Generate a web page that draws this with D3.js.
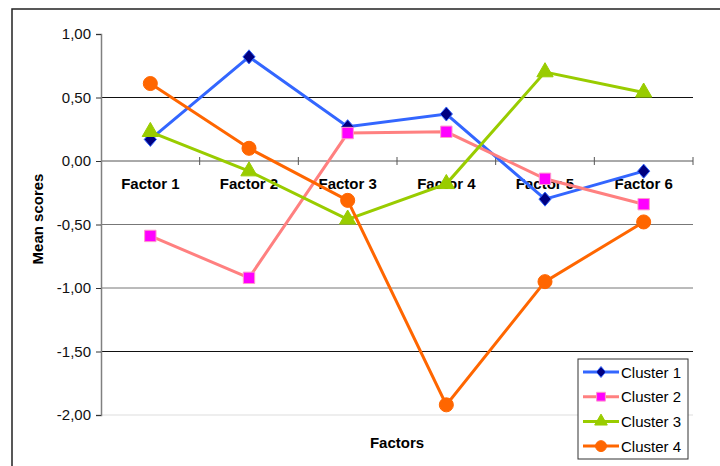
<!DOCTYPE html>
<html>
<head>
<script src="https://d3js.org/d3.v7.min.js" charset="utf-8"></script>
<style type="text/css">
	body { margin: 0; background: #fff; font-family: Arial, "Liberation Sans", sans-serif; }
	svg { display: block; }
</style>
</head>
<body>
<script>
var factors = ["Factor 1", "Factor 2", "Factor 3", "Factor 4", "Factor 5", "Factor 6"];
var seriesNames = ["Cluster 1", "Cluster 2", "Cluster 3", "Cluster 4"];
var cluster1 = [0.17, 0.82, 0.27, 0.37, -0.30, -0.08];
var cluster2 = [-0.59, -0.92, 0.22, 0.23, -0.14, -0.34];
var cluster3 = [0.23, -0.08, -0.46, -0.18, 0.70, 0.54];
var cluster4 = [0.61, 0.10, -0.31, -1.92, -0.95, -0.48];
var yTicks = [1.0, 0.5, 0.0, -0.5, -1.0, -1.5, -2.0];

var w = 720, h = 466;
var plotL = 101, plotR = 693, plotT = 34, plotB = 415;
var font = "Arial, 'Liberation Sans', sans-serif";

var svg = d3.select("body").append("svg")
	.attr("width", w)
	.attr("height", h)
	.attr("font-family", font);

// outer chart border (runs off the page at right and bottom)
svg.append("rect")
	.attr("x", 12).attr("y", 9)
	.attr("width", 760).attr("height", 500)
	.attr("fill", "none")
	.attr("stroke", "#222")
	.attr("stroke-width", 1.5);

var x = d3.scaleBand().domain(factors).range([plotL, plotR]);
var y = d3.scaleLinear().domain([-2, 1]).range([plotB, plotT]);

// gridlines (the scan leaves them in different greys)
var gridCol = function(v) {
	if (v == 0.5 || v == -1.5) return "#111";
	if (v == 0) return "#555";
	if (v == -2) return "#ddd";
	return "#777";
};
svg.selectAll(".grid")
	.data(yTicks.filter(function(d) { return d != 1; }))
	.enter().append("line")
	.attr("x1", plotL).attr("x2", plotR)
	.attr("y1", function(d) { return y(d); })
	.attr("y2", function(d) { return y(d); })
	.attr("stroke", gridCol)
	.attr("stroke-width", 1);

// y axis
var yAxis = d3.axisLeft(y)
	.tickValues(yTicks)
	.tickSize(5)
	.tickFormat(function(d) { return d3.format(".2f")(d).replace(".", ",").replace("−", "-"); });
var ya = svg.append("g").attr("transform", "translate(" + plotL + ",0)").call(yAxis);
ya.select(".domain").attr("stroke", "#808080").attr("stroke-width", 1.5);
ya.selectAll(".tick line").attr("stroke", "#333");
ya.selectAll("text").attr("font-size", 15).attr("fill", "#111").attr("dx", -2)
	.attr("font-family", font);

// x axis on the zero line
var xAxis = d3.axisBottom(x).tickSize(0).tickPadding(17);
var xa = svg.append("g").attr("transform", "translate(0," + y(0) + ")").call(xAxis);
xa.select(".domain").remove();
xa.selectAll("text").attr("font-size", 15).attr("font-weight", "bold").attr("fill", "#000")
	.attr("font-family", font);
// small ticks between categories
svg.selectAll(".xt")
	.data(factors.slice(1).concat(["end"]))
	.enter().append("line")
	.attr("x1", function(d, i) { return plotL + (i + 1) * x.bandwidth(); })
	.attr("x2", function(d, i) { return plotL + (i + 1) * x.bandwidth(); })
	.attr("y1", y(0) - 4).attr("y2", y(0) + 4)
	.attr("stroke", "#555");

var cx = function(i) { return x(factors[i]) + x.bandwidth() / 2; };

// squat diamond like the spreadsheet marker
var diamond = {
	draw: function(ctx, size) {
		var r = Math.sqrt(size) / 2;
		ctx.moveTo(0, -r * 1.15);
		ctx.lineTo(r, 0);
		ctx.lineTo(0, r * 1.15);
		ctx.lineTo(-r, 0);
		ctx.closePath();
	}
};

var series = [
	{ name: seriesNames[0], vals: cluster1, line: "#3366FF", fill: "#000080", stroke: "#3366FF", shape: diamond, size: 150 },
	{ name: seriesNames[1], vals: cluster2, line: "#FF8080", fill: "#FF00FF", stroke: "#FF99CC", shape: d3.symbolSquare, size: 130 },
	{ name: seriesNames[2], vals: cluster3, line: "#99CC00", fill: "#99CC00", stroke: "#99CC00", shape: d3.symbolTriangle, size: 115 },
	{ name: seriesNames[3], vals: cluster4, line: "#FF6600", fill: "#FF6600", stroke: "#FF6600", shape: d3.symbolCircle, size: 155 }
];

var line = d3.line()
	.x(function(d, i) { return cx(i); })
	.y(function(d) { return y(d); });

series.forEach(function(s) {
	var g = svg.append("g");
	g.append("path")
		.attr("d", line(s.vals))
		.attr("fill", "none")
		.attr("stroke", s.line)
		.attr("stroke-width", 3);
	g.selectAll("path.m")
		.data(s.vals)
		.enter().append("path")
		.attr("class", "m")
		.attr("d", d3.symbol().type(s.shape).size(s.size))
		.attr("transform", function(d, i) { return "translate(" + cx(i) + "," + y(d) + ")"; })
		.attr("fill", s.fill)
		.attr("stroke", s.stroke)
		.attr("stroke-width", 1);
});

// axis titles
svg.append("text")
	.attr("x", (plotL + plotR) / 2)
	.attr("y", 448)
	.attr("text-anchor", "middle")
	.attr("font-size", 15).attr("font-weight", "bold")
	.text("Factors");
svg.append("text")
	.attr("transform", "translate(43,219) rotate(-90)")
	.attr("text-anchor", "middle")
	.attr("font-size", 15).attr("font-weight", "bold")
	.text("Mean scores");

// legend
var lg = svg.append("g").attr("transform", "translate(578,359)");
lg.append("rect")
	.attr("width", 110).attr("height", 100)
	.attr("fill", "#fff")
	.attr("stroke", "#333")
	.attr("stroke-width", 1);
series.forEach(function(s, i) {
	var yy = 13 + i * 24.7;
	lg.append("line")
		.attr("x1", 5).attr("x2", 41)
		.attr("y1", yy).attr("y2", yy)
		.attr("stroke", s.line).attr("stroke-width", 3);
	lg.append("path")
		.attr("d", d3.symbol().type(s.shape).size(s.size * 0.6))
		.attr("transform", "translate(23," + yy + ")")
		.attr("fill", s.fill)
		.attr("stroke", s.stroke);
	lg.append("text")
		.attr("x", 43).attr("y", yy + 5.5)
		.attr("font-size", 15)
		.text(s.name);
});
</script>
</body>
</html>
